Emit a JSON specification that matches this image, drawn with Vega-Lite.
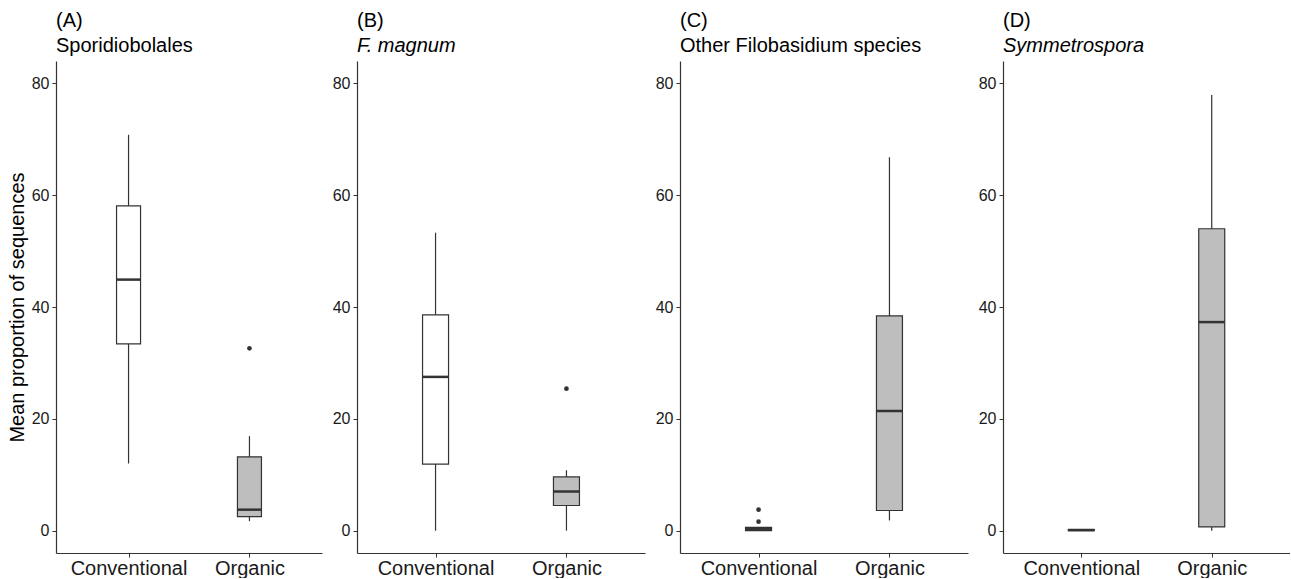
{
  "$schema": "https://vega.github.io/schema/vega-lite/v6.json",
  "padding": {"left": 7, "top": 11, "right": 0, "bottom": 0},
  "background": "white",
  "config": {
    "font": "Liberation Sans",
    "view": {"stroke": null},
    "title": {"anchor": "start", "frame": "group", "fontSize": 20, "fontWeight": "normal", "color": "black", "font": "Liberation Sans", "subtitleFont": "Liberation Sans", "subtitleFontSize": 20, "subtitleColor": "black", "subtitlePadding": 5, "offset": 5},
    "axis": {"domainColor": "#333333", "domainWidth": 1.2, "tickColor": "#333333", "tickWidth": 1, "tickSize": 4, "grid": false, "labelColor": "#1a1a1a", "labelFont": "Liberation Sans", "titleFont": "Liberation Sans", "titleFontWeight": "normal", "titleColor": "black"}
  },
  "datasets": {
    "boxes": [
      {"panel": "A", "group": "Conventional", "lower": 12.0, "q1": 33.4, "median": 44.9, "q3": 58.1, "upper": 70.8},
      {"panel": "A", "group": "Organic", "lower": 1.7, "q1": 2.5, "median": 3.75, "q3": 13.2, "upper": 16.9},
      {"panel": "B", "group": "Conventional", "lower": 0.0, "q1": 11.9, "median": 27.5, "q3": 38.6, "upper": 53.3},
      {"panel": "B", "group": "Organic", "lower": 0.0, "q1": 4.5, "median": 7.0, "q3": 9.6, "upper": 10.8},
      {"panel": "C", "group": "Conventional", "lower": 0.0, "q1": 0.0, "median": 0.3, "q3": 0.6, "upper": 0.6},
      {"panel": "C", "group": "Organic", "lower": 1.8, "q1": 3.6, "median": 21.4, "q3": 38.4, "upper": 66.8},
      {"panel": "D", "group": "Conventional", "lower": 0.0, "q1": 0.0, "median": 0.1, "q3": 0.2, "upper": 0.3},
      {"panel": "D", "group": "Organic", "lower": 0.0, "q1": 0.66, "median": 37.3, "q3": 54.0, "upper": 77.9}
    ],
    "outliers": [
      {"panel": "A", "group": "Organic", "value": 32.6},
      {"panel": "B", "group": "Organic", "value": 25.4},
      {"panel": "C", "group": "Conventional", "value": 1.6},
      {"panel": "C", "group": "Conventional", "value": 3.75}
    ]
  },
  "hconcat": [
    {
      "width": 266, "height": 492,
      "title": {"text": "(A)", "subtitle": "Sporidiobolales"},
      "encoding": {"x": {"field": "group", "type": "nominal", "scale": {"type": "point", "padding": 0.6, "domain": ["Conventional", "Organic"]}, "axis": {"title": null, "labelFontSize": 20, "labelPadding": 1, "labelAngle": 0}}},
      "layer": [
        {"data": {"name": "boxes"}, "transform": [{"filter": "datum.panel == 'A'"}], "mark": {"type": "rule", "color": "#333333", "strokeWidth": 1.2, "opacity": 1},
         "encoding": {"y": {"field": "lower", "type": "quantitative", "scale": {"domain": [-4, 84], "nice": false, "zero": false}, "axis": {"values": [0, 20, 40, 60, 80], "labelFontSize": 16, "labelPadding": 3, "title": "Mean proportion of sequences", "titleFontSize": 20, "titlePadding": 4}}, "y2": {"field": "upper"}}},
        {"data": {"name": "boxes"}, "transform": [{"filter": "datum.panel == 'A'"}], "mark": {"type": "bar", "stroke": "#333333", "strokeWidth": 1.2, "size": 24, "opacity": 1},
         "encoding": {"y": {"field": "q1", "type": "quantitative"}, "y2": {"field": "q3"}, "fill": {"field": "group", "type": "nominal", "scale": {"domain": ["Conventional", "Organic"], "range": ["white", "#bebebe"]}, "legend": null}}},
        {"data": {"name": "boxes"}, "transform": [{"filter": "datum.panel == 'A'"}], "mark": {"type": "tick", "color": "#333333", "thickness": 2.5, "size": 24, "opacity": 1},
         "encoding": {"y": {"field": "median", "type": "quantitative"}}},
        {"data": {"name": "outliers"}, "transform": [{"filter": "datum.panel == 'A'"}], "mark": {"type": "point", "filled": true, "color": "#333333", "opacity": 1, "size": 22},
         "encoding": {"y": {"field": "value", "type": "quantitative"}}}
      ]
    },
    {
      "width": 288, "height": 492,
      "title": {"text": "(B)", "subtitle": "F. magnum", "subtitleFontStyle": "italic"},
      "encoding": {"x": {"field": "group", "type": "nominal", "scale": {"type": "point", "padding": 0.6, "domain": ["Conventional", "Organic"]}, "axis": {"title": null, "labelFontSize": 20, "labelPadding": 1, "labelAngle": 0}}},
      "layer": [
        {"data": {"name": "boxes"}, "transform": [{"filter": "datum.panel == 'B'"}], "mark": {"type": "rule", "color": "#333333", "strokeWidth": 1.2, "opacity": 1},
         "encoding": {"y": {"field": "lower", "type": "quantitative", "scale": {"domain": [-4, 84], "nice": false, "zero": false}, "axis": {"values": [0, 20, 40, 60, 80], "labelFontSize": 16, "labelPadding": 3, "title": null}}, "y2": {"field": "upper"}}},
        {"data": {"name": "boxes"}, "transform": [{"filter": "datum.panel == 'B'"}], "mark": {"type": "bar", "stroke": "#333333", "strokeWidth": 1.2, "size": 26, "opacity": 1},
         "encoding": {"y": {"field": "q1", "type": "quantitative"}, "y2": {"field": "q3"}, "fill": {"field": "group", "type": "nominal", "scale": {"domain": ["Conventional", "Organic"], "range": ["white", "#bebebe"]}, "legend": null}}},
        {"data": {"name": "boxes"}, "transform": [{"filter": "datum.panel == 'B'"}], "mark": {"type": "tick", "color": "#333333", "thickness": 2.5, "size": 26, "opacity": 1},
         "encoding": {"y": {"field": "median", "type": "quantitative"}}},
        {"data": {"name": "outliers"}, "transform": [{"filter": "datum.panel == 'B'"}], "mark": {"type": "point", "filled": true, "color": "#333333", "opacity": 1, "size": 22},
         "encoding": {"y": {"field": "value", "type": "quantitative"}}}
      ]
    },
    {
      "width": 288, "height": 492,
      "title": {"text": "(C)", "subtitle": "Other Filobasidium species"},
      "encoding": {"x": {"field": "group", "type": "nominal", "scale": {"type": "point", "padding": 0.6, "domain": ["Conventional", "Organic"]}, "axis": {"title": null, "labelFontSize": 20, "labelPadding": 1, "labelAngle": 0}}},
      "layer": [
        {"data": {"name": "boxes"}, "transform": [{"filter": "datum.panel == 'C'"}], "mark": {"type": "rule", "color": "#333333", "strokeWidth": 1.2, "opacity": 1},
         "encoding": {"y": {"field": "lower", "type": "quantitative", "scale": {"domain": [-4, 84], "nice": false, "zero": false}, "axis": {"values": [0, 20, 40, 60, 80], "labelFontSize": 16, "labelPadding": 3, "title": null}}, "y2": {"field": "upper"}}},
        {"data": {"name": "boxes"}, "transform": [{"filter": "datum.panel == 'C'"}], "mark": {"type": "bar", "stroke": "#333333", "strokeWidth": 1.2, "size": 26, "opacity": 1},
         "encoding": {"y": {"field": "q1", "type": "quantitative"}, "y2": {"field": "q3"}, "fill": {"field": "group", "type": "nominal", "scale": {"domain": ["Conventional", "Organic"], "range": ["white", "#bebebe"]}, "legend": null}}},
        {"data": {"name": "boxes"}, "transform": [{"filter": "datum.panel == 'C'"}], "mark": {"type": "tick", "color": "#333333", "thickness": 2.5, "size": 26, "opacity": 1},
         "encoding": {"y": {"field": "median", "type": "quantitative"}}},
        {"data": {"name": "outliers"}, "transform": [{"filter": "datum.panel == 'C'"}], "mark": {"type": "point", "filled": true, "color": "#333333", "opacity": 1, "size": 22},
         "encoding": {"y": {"field": "value", "type": "quantitative"}}}
      ]
    },
    {
      "width": 287, "height": 492,
      "title": {"text": "(D)", "subtitle": "Symmetrospora", "subtitleFontStyle": "italic"},
      "encoding": {"x": {"field": "group", "type": "nominal", "scale": {"type": "point", "padding": 0.6, "domain": ["Conventional", "Organic"]}, "axis": {"title": null, "labelFontSize": 20, "labelPadding": 1, "labelAngle": 0}}},
      "layer": [
        {"data": {"name": "boxes"}, "transform": [{"filter": "datum.panel == 'D'"}], "mark": {"type": "rule", "color": "#333333", "strokeWidth": 1.2, "opacity": 1},
         "encoding": {"y": {"field": "lower", "type": "quantitative", "scale": {"domain": [-4, 84], "nice": false, "zero": false}, "axis": {"values": [0, 20, 40, 60, 80], "labelFontSize": 16, "labelPadding": 3, "title": null}}, "y2": {"field": "upper"}}},
        {"data": {"name": "boxes"}, "transform": [{"filter": "datum.panel == 'D'"}], "mark": {"type": "bar", "stroke": "#333333", "strokeWidth": 1.2, "size": 26, "opacity": 1},
         "encoding": {"y": {"field": "q1", "type": "quantitative"}, "y2": {"field": "q3"}, "fill": {"field": "group", "type": "nominal", "scale": {"domain": ["Conventional", "Organic"], "range": ["white", "#bebebe"]}, "legend": null}}},
        {"data": {"name": "boxes"}, "transform": [{"filter": "datum.panel == 'D'"}], "mark": {"type": "tick", "color": "#333333", "thickness": 2.5, "size": 26, "opacity": 1},
         "encoding": {"y": {"field": "median", "type": "quantitative"}}}
      ]
    }
  ],
  "spacing": 35,
  "bounds": "flush"
}
